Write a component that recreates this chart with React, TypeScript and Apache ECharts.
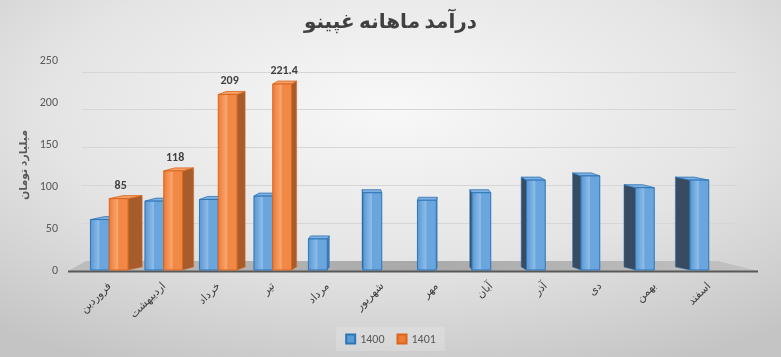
import React, { useEffect, useRef } from "react";
import * as echarts from "echarts";

const months = ["فروردین", "اردیبهشت", "خرداد", "تیر", "مرداد", "شهریور", "مهر", "آبان", "آذر", "دی", "بهمن", "اسفند"];
const values1400 = [60, 82, 84, 88, 37, 92, 83, 92, 107, 112, 98, 107];
const values1401: (number | null)[] = [85, 118, 209, 221.4, null, null, null, null, null, null, null, null];
const seriesNames = ["1400", "1401"];
const yMin = 0;
const yMax = 250;
const yStep = 50;
const wallLines = [50, 100, 150, 200, 250];

const FONT = 'Calibri, "Liberation Sans", "DejaVu Sans", sans-serif';

const palettes = [
  { f0: "#5a97d3", f1: "#8dbde9", f2: "#6aa5dd", border: "#2e75b6", top: "#7eb0e2", sideR: "#3f78b5", sideL: "#394b61", legend: "#5b9bd5" },
  { f0: "#ee7b37", f1: "#f9a66f", f2: "#f28846", border: "#d9661e", top: "#f5a066", sideR: "#a95c2b", sideL: "#8b4a22", legend: "#ed7d31" },
];

function depthFor(i: number) {
  return i <= 5 ? (4.7 - i) * 3 : -(i - 6.3) * 3.1;
}

function makeRender(s: number) {
  return (params: any, api: any) => {
    const i = api.value(0);
    const v = api.value(1);
    if (v == null || isNaN(v)) return null;
    const base = api.coord([i, 0]);
    const topP = api.coord([i, v]);
    const cw = api.size([1, 0])[0];
    const w = cw * 0.345;
    const cx = base[0] + (s === 0 ? -w / 2 : w / 2);
    const x0 = cx - w / 2;
    const x1 = cx + w / 2;
    const yT = topP[1];
    const yB = base[1];
    const dx = depthFor(i);
    const dy = -3;
    const p = palettes[s];
    const children: any[] = [];
    if (dx >= 0) {
      children.push({
        type: "polygon",
        shape: { points: [[x1, yT], [x1 + dx, yT + dy], [x1 + dx, yB + dy], [x1, yB]] },
        style: { fill: p.sideR, stroke: p.border, lineWidth: 0.5 },
      });
    } else {
      children.push({
        type: "polygon",
        shape: { points: [[x0, yT], [x0 + dx, yT + dy], [x0 + dx, yB + dy], [x0, yB]] },
        style: { fill: p.sideL, stroke: p.border, lineWidth: 0.5 },
      });
    }
    children.push({
      type: "polygon",
      shape: { points: [[x0, yT], [x1, yT], [x1 + dx, yT + dy], [x0 + dx, yT + dy]] },
      style: { fill: p.top, stroke: p.border, lineWidth: 0.8 },
    });
    children.push({
      type: "rect",
      shape: { x: x0, y: yT, width: w, height: yB - yT },
      style: {
        fill: new echarts.graphic.LinearGradient(0, 0, 1, 0, [
          { offset: 0, color: p.f0 },
          { offset: 0.45, color: p.f1 },
          { offset: 0.5, color: p.f2 },
          { offset: 1, color: p.f2 },
        ]),
        stroke: p.border,
        lineWidth: 1,
      },
    });
    if (s === 1) {
      children.push({
        type: "text",
        style: {
          text: String(v),
          x: cx + 2,
          y: yT - 8,
          align: "center",
          verticalAlign: "bottom",
          fill: "#404040",
          font: `bold 12px ${FONT}`,
        },
      });
    }
    return { type: "group", children };
  };
}

export default function App() {
  const ref = useRef<HTMLDivElement>(null);
  useEffect(() => {
    if (!ref.current) return;
    const chart = echarts.init(ref.current, undefined, { renderer: "svg" });
    const data1400 = values1400.map((v, i) => [i, v]);
    const data1401 = values1401.map((v, i) => [i, v]).filter((d) => d[1] != null);
    chart.setOption({
      animation: false,
      backgroundColor: new echarts.graphic.RadialGradient(0.5, 0.3, 0.8, [
        { offset: 0, color: "#f8f8f8" },
        { offset: 0.55, color: "#e4e4e4" },
        { offset: 1, color: "#c4c4c4" },
      ]),
      title: {
        text: "درآمد ماهانه غپینو",
        left: "center",
        top: 6,
        textStyle: { fontSize: 20, fontWeight: "bold", color: "#404040", fontFamily: FONT },
      },
      legend: {
        data: seriesNames,
        top: 327,
        left: "center",
        icon: "rect",
        itemWidth: 9,
        itemHeight: 9,
        itemGap: 12,
        padding: [6, 9],
        backgroundColor: "rgba(255,255,255,0.18)",
        textStyle: { fontSize: 12, color: "#595959", fontFamily: FONT },
      },
      grid: { left: 82, right: 45, top: 60, bottom: 87 },
      graphic: [
        {
          type: "polygon",
          z: 0,
          silent: true,
          shape: { points: [[68, 271], [758, 271], [718, 261], [86, 261]] },
          style: {
            fill: new echarts.graphic.LinearGradient(0, 0, 1, 0, [
              { offset: 0, color: "#bdbdbd" },
              { offset: 0.5, color: "#a9a9a9" },
              { offset: 1, color: "#c2c2c2" },
            ]),
          },
        },
        {
          type: "line",
          z: 0,
          silent: true,
          shape: { x1: 68, y1: 271.5, x2: 758, y2: 271.5 },
          style: { stroke: "#595959", lineWidth: 2 },
        },
      ],
      xAxis: {
        type: "category",
        data: months,
        axisLine: { show: false },
        axisTick: { show: false },
        axisLabel: {
          rotate: 45,
          margin: 14,
          fontSize: 11,
          color: "#404040",
          fontFamily: FONT,
          interval: 0,
        },
      },
      yAxis: [
        {
          type: "value",
          min: yMin,
          max: yMax,
          interval: yStep,
          name: "میلیارد تومان",
          nameLocation: "middle",
          nameGap: 49,
          nameTextStyle: { fontSize: 11, color: "#595959", fontWeight: "bold", fontFamily: FONT },
          axisLine: { show: false },
          axisTick: { show: false },
          splitLine: { show: false },
          axisLabel: { fontSize: 12, color: "#595959", margin: 24, fontFamily: FONT },
        },
        {
          type: "value",
          min: -11.7,
          max: 265.6,
          show: false,
          splitLine: { show: false },
        },
      ],
      series: [
        {
          type: "line",
          yAxisIndex: 1,
          data: [],
          z: 0,
          silent: true,
          markLine: {
            silent: true,
            symbol: "none",
            label: { show: false },
            lineStyle: { color: "#d6d6d6", width: 1, type: "solid" },
            data: wallLines.map((v) => ({ yAxis: v })),
          },
        },
        {
          name: seriesNames[0],
          type: "custom",
          z: 5,
          renderItem: makeRender(0),
          encode: { x: 0, y: 1 },
          itemStyle: { color: palettes[0].legend, borderColor: palettes[0].border, borderWidth: 1 },
          data: data1400,
        },
        {
          name: seriesNames[1],
          type: "custom",
          z: 6,
          renderItem: makeRender(1),
          encode: { x: 0, y: 1 },
          itemStyle: { color: palettes[1].legend, borderColor: palettes[1].border, borderWidth: 1 },
          data: data1401,
        },
      ],
    });
    return () => chart.dispose();
  }, []);
  return <div ref={ref} style={{ position: "fixed", left: 0, top: 0, width: 781, height: 357 }} />;
}
